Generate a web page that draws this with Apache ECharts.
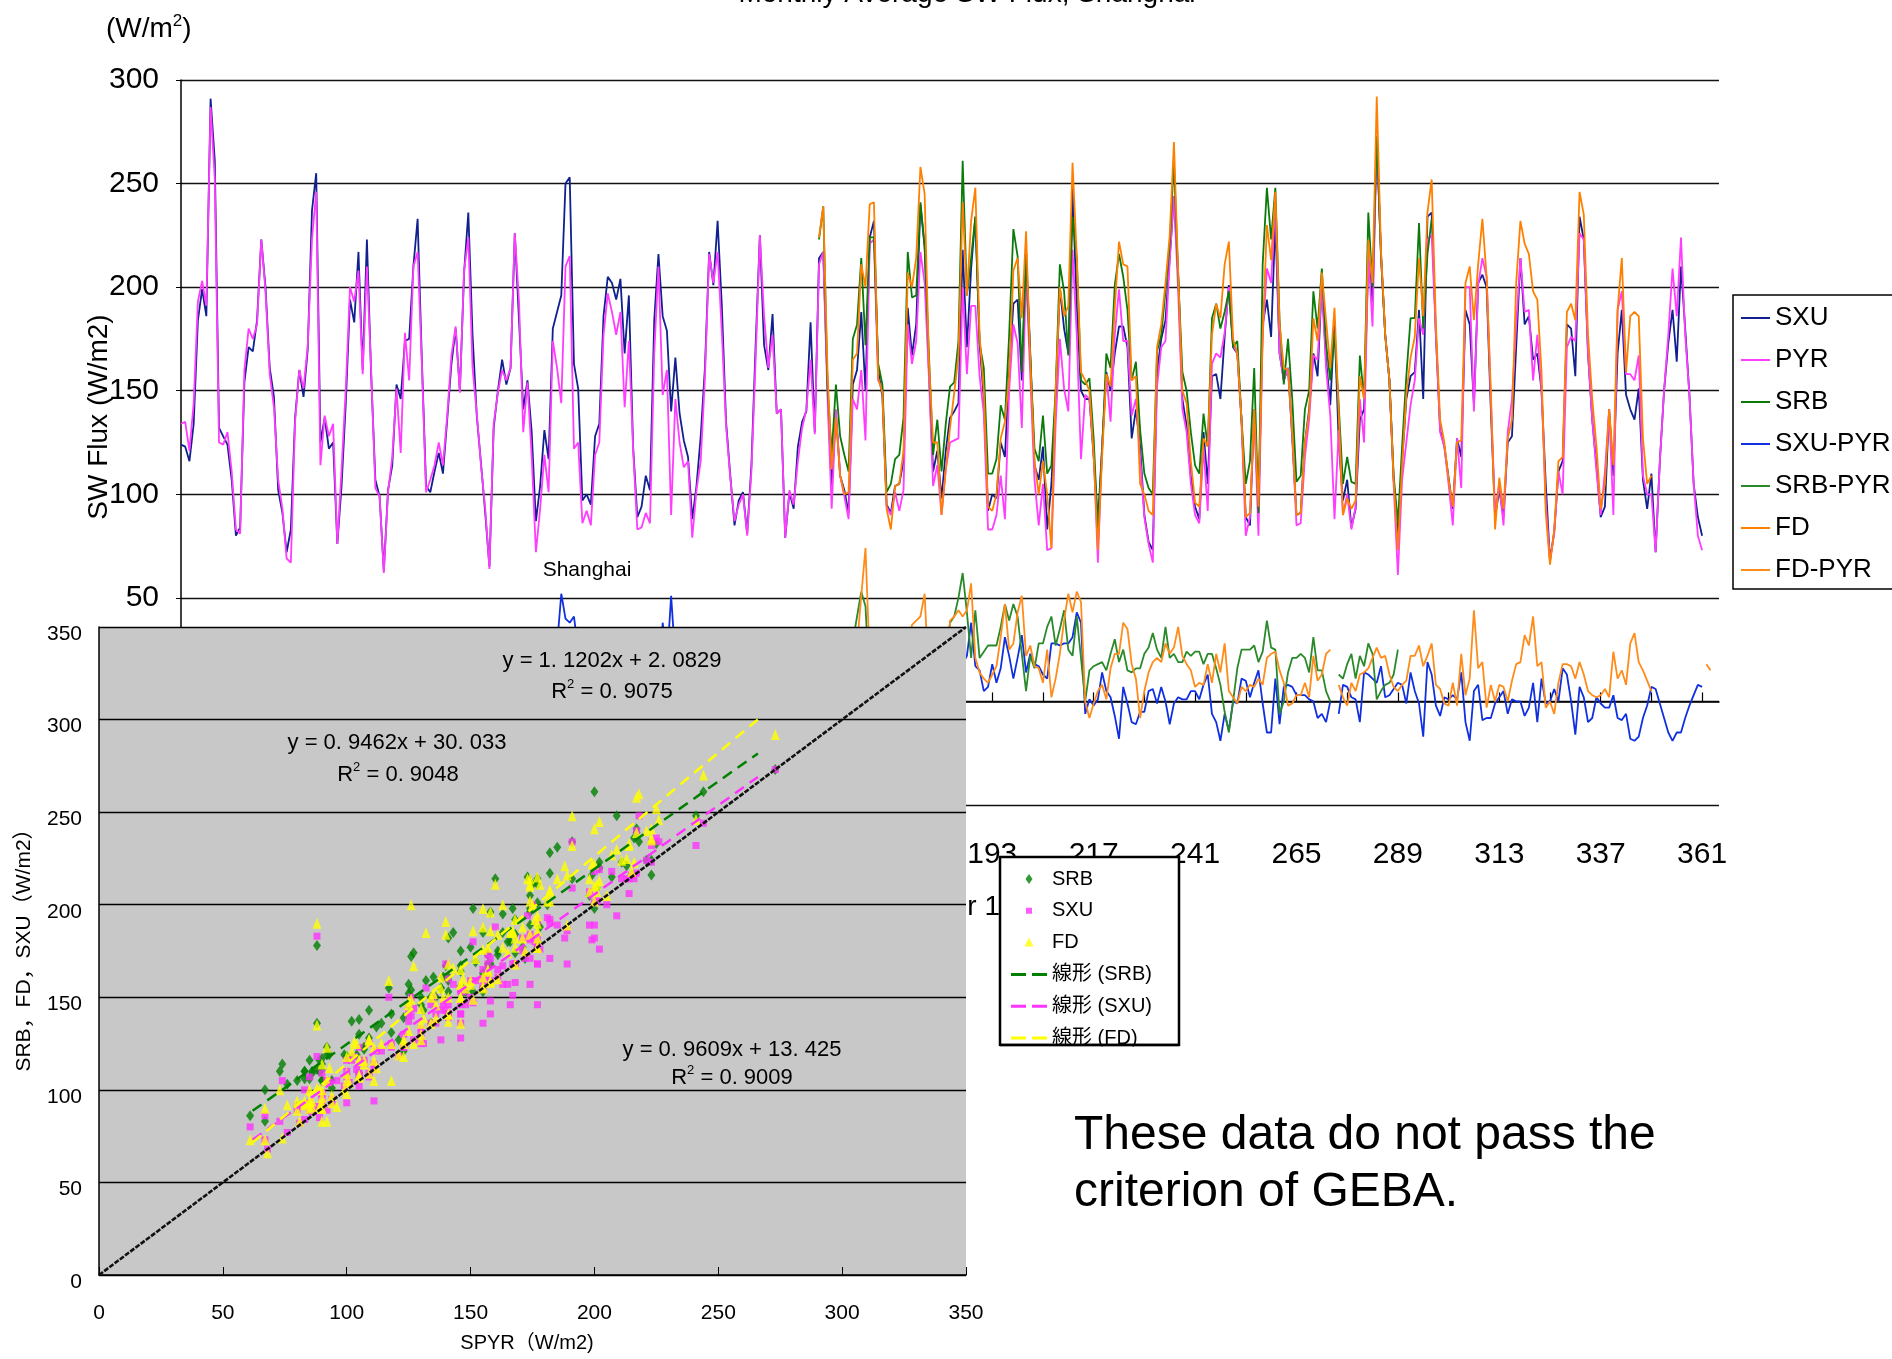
<!DOCTYPE html>
<html>
<head>
<meta charset="utf-8">
<title>Monthly Average SW Flux, Shanghai</title>
<script src="https://cdn.jsdelivr.net/npm/echarts@6.0.0/dist/echarts.min.js"></script>
<style>
  html, body { margin: 0; padding: 0; background: #fff; }
  #chart { width: 1892px; height: 1359px; }
</style>
</head>
<body>
<div id="chart"></div>
<script>
// month number along the time axis
const MONTHS = []
for (let m = 1; m <= 365; m++) MONTHS.push(String(m))

// monthly mean SW flux (W/m2), one row = 12 months, starting at month 1
const SXU = [
  124, 123, 116, 134, 184, 199, 186, 291, 261, 132, 128, 124,
  107, 80, 84, 154, 171, 169, 184, 223, 200, 161, 147, 102,
  91, 72, 83, 137, 160, 147, 170, 237, 255, 125, 137, 122,
  125, 76, 104, 144, 194, 183, 217, 160, 223, 158, 107, 99,
  63, 102, 114, 153, 146, 174, 175, 210, 233, 165, 104, 101,
  111, 120, 110, 136, 163, 180, 150, 207, 236, 177, 138, 115,
  91, 65, 132, 150, 165, 153, 161, 226, 184, 141, 155, 130,
  87, 104, 131, 117, 180, 188, 196, 250, 253, 163, 151, 97,
  100, 95, 128, 134, 186, 205, 202, 194, 204, 168, 196, 123,
  89, 94, 109, 102, 184, 216, 186, 179, 140, 166, 139, 126,
  118, 88, 104, 128, 161, 217, 201, 232, 191, 135, 109, 85,
  97, 101, 81, 114, 172, 225, 172, 160, 187, 139, 141, 79,
  101, 93, 123, 135, 140, 183, 130, 214, 217, 153, 104, 139,
  109, 102, 91, 153, 160, 188, 150, 224, 232, 160, 147, 95,
  91, 104, 105, 116, 190, 167, 182, 240, 219, 161, 111, 121,
  98, 121, 137, 140, 144, 218, 171, 209, 234, 173, 146, 92,
  100, 98, 125, 118, 159, 192, 194, 155, 218, 168, 114, 107,
  123, 83, 105, 146, 200, 180, 168, 248, 191, 150, 146, 146,
  118, 86, 123, 159, 150, 168, 181, 181, 171, 127, 141, 123,
  90, 77, 73, 159, 175, 184, 214, 244, 207, 146, 133, 109,
  94, 88, 130, 105, 157, 158, 146, 176, 201, 171, 168, 136,
  89, 85, 141, 91, 182, 194, 176, 232, 168, 155, 161, 127,
  90, 91, 125, 141, 168, 157, 202, 165, 143, 183, 125, 97,
  107, 84, 93, 136, 141, 214, 193, 273, 216, 177, 155, 107,
  80, 116, 146, 157, 159, 189, 146, 234, 236, 177, 131, 123,
  108, 93, 127, 118, 189, 182, 143, 202, 206, 200, 141, 89,
  102, 89, 125, 128, 171, 214, 182, 186, 165, 168, 150, 105,
  68, 82, 111, 116, 182, 180, 157, 234, 223, 168, 136, 114,
  89, 94, 141, 109, 168, 189, 148, 141, 136, 151, 107, 93,
  110, 72, 116, 150, 173, 189, 164, 210, 180, 148, 105, 89,
  80
]

const PYR = [
  134, 135, 121, 144, 193, 203, 191, 287, 252, 125, 124, 130,
  111, 83, 81, 160, 180, 175, 182, 223, 198, 158, 142, 107,
  93, 69, 67, 135, 160, 151, 172, 223, 246, 114, 138, 128,
  134, 76, 112, 151, 200, 193, 208, 158, 210, 160, 103, 99,
  62, 101, 118, 151, 120, 178, 155, 210, 217, 163, 101, 107,
  114, 125, 114, 138, 167, 181, 149, 208, 224, 161, 139, 114,
  93, 64, 134, 149, 160, 155, 161, 226, 193, 130, 154, 118,
  72, 93, 119, 101, 174, 161, 144, 210, 215, 122, 125, 86,
  92, 85, 119, 125, 177, 197, 188, 177, 188, 142, 174, 122,
  83, 84, 91, 86, 168, 210, 148, 160, 90, 146, 125, 113,
  116, 79, 102, 116, 156, 216, 202, 217, 178, 133, 108, 87,
  95, 100, 80, 111, 165, 225, 186, 161, 177, 139, 141, 79,
  102, 95, 116, 132, 141, 165, 129, 211, 217, 147, 93, 141,
  109, 99, 88, 146, 141, 160, 126, 221, 223, 155, 151, 94,
  90, 101, 92, 102, 182, 163, 174, 217, 202, 157, 104, 114,
  90, 112, 125, 126, 127, 200, 158, 191, 191, 157, 139, 83,
  83, 90, 109, 88, 150, 182, 173, 132, 207, 157, 107, 85,
  105, 73, 74, 134, 175, 151, 140, 218, 177, 117, 148, 146,
  121, 67, 123, 158, 135, 177, 199, 174, 174, 138, 146, 118,
  89, 76, 67, 152, 171, 174, 213, 244, 198, 141, 130, 105,
  90, 86, 123, 92, 163, 168, 166, 178, 200, 172, 168, 134,
  80, 89, 141, 80, 177, 209, 202, 241, 168, 155, 161, 130,
  85, 86, 118, 136, 167, 165, 201, 161, 138, 88, 131, 90,
  100, 83, 94, 146, 125, 216, 181, 273, 215, 177, 155, 105,
  61, 107, 125, 143, 155, 185, 177, 223, 225, 177, 130, 123,
  105, 85, 127, 103, 200, 200, 140, 201, 214, 205, 146, 92,
  105, 85, 130, 146, 182, 214, 188, 189, 155, 177, 150, 96,
  68, 81, 111, 100, 171, 176, 174, 226, 223, 168, 136, 111,
  90, 111, 141, 90, 189, 198, 158, 158, 155, 167, 109, 100,
  100, 72, 116, 150, 177, 209, 186, 224, 177, 148, 105, 80,
  73
]

// SRB starts at month 152
const SRB_START = 152
const SRB = [
  223, 239, 153, 119, 153,
  128, 119, 111, 175, 182, 214, 172, 224, 224, 163, 153, 101,
  105, 117, 119, 137, 217, 195, 196, 241, 220, 168, 119, 136,
  111, 134, 152, 154, 174, 261, 196, 214, 234, 173, 161, 110,
  110, 117, 143, 136, 177, 228, 215, 159, 215, 166, 122, 116,
  138, 110, 114, 150, 211, 198, 167, 234, 214, 155, 153, 156,
  127, 83, 121, 168, 161, 201, 216, 205, 189, 155, 164, 131,
  110, 103, 100, 169, 177, 198, 221, 261, 205, 159, 150, 130,
  114, 110, 139, 123, 185, 192, 180, 188, 198, 171, 174, 136,
  105, 116, 161, 91, 211, 248, 223, 248, 184, 153, 175, 146,
  106, 109, 141, 150, 198, 180, 209, 173, 155, 178, 143, 105,
  118, 106, 105, 167, 146, 236, 200, 273, 216, 177, 155, 109,
  86, 123, 157, 185, 185, 231, 180, 216, 233
]

// FD starts at month 152
const FD_START = 152
const FD = [
  224, 239, 160, 112, 137,
  109, 100, 101, 165, 168, 211, 200, 240, 241, 156, 149, 93,
  83, 104, 105, 121, 207, 200, 214, 258, 245, 165, 125, 125,
  90, 112, 132, 149, 167, 241, 196, 232, 248, 177, 150, 94,
  92, 100, 127, 135, 157, 208, 214, 185, 227, 164, 116, 100,
  116, 100, 74, 150, 200, 186, 191, 260, 215, 159, 155, 150,
  119, 73, 118, 158, 152, 190, 222, 211, 210, 155, 157, 105,
  100, 92, 90, 171, 182, 202, 225, 270, 207, 150, 144, 116,
  96, 94, 127, 123, 177, 192, 185, 211, 222, 175, 168, 136,
  89, 91, 141, 94, 177, 230, 213, 246, 182, 161, 160, 130,
  90, 91, 125, 139, 185, 174, 207, 184, 161, 190, 139, 90,
  98, 93, 97, 157, 146, 223, 202, 292, 218, 177, 155, 107,
  73, 114, 148, 166, 176, 214, 186, 236, 252, 182, 136, 125,
  107, 94, 125, 126, 202, 210, 184, 211, 233, 205, 150, 83,
  108, 93, 127, 136, 202, 232, 221, 216, 198, 194, 159, 91,
  66, 83, 116, 118, 188, 192, 184, 246, 235, 177, 146, 123,
  93, 105, 141, 114, 189, 214, 159, 186, 188, 186, 127, 105,
  109
]

// differences against the pyranometer (W/m2)
const SXU_PYR = [
  -10, -12, -5, -10, -9, -4, -5, 5, 9, 7, 4, -6,
  -4, -3, 3, -6, -9, -6, 2, 0, 2, 3, 5, -5,
  -2, 4, 16, 2, 1, -4, -2, 14, 9, 11, -1, -6,
  -9, 0, -9, -7, -6, -10, 9, 2, 13, -2, 4, 0,
  1, 1, -4, 2, 26, -4, 20, 0, 16, 2, 3, -6,
  -3, -5, -4, -2, -4, -1, 1, -1, 11, 16, -1, 1,
  -2, 1, -2, 1, 5, -3, 0, 0, -9, 11, 1, 12,
  15, 11, 12, 16, 6, 27, 52, 40, 38, 41, 25, 11,
  8, 10, 9, 10, 9, 8, 14, 17, 16, 26, 21, 1,
  5, 10, 18, 16, 16, 6, 38, 18, 51, 20, 13, 13,
  2, 9, 2, 12, 5, 2, -1, 15, 13, 2, 1, -2,
  2, 1, 1, 4, 7, 0, -14, -2, 10, 0, 0, 0,
  -1, -2, 7, 4, -1, 18, 1, 3, 0, 5, 11, -2,
  0, 3, 4, 6, 18, 27, 24, 3, 10, 4, -4, 1,
  2, 3, 13, 14, 8, 4, 8, 23, 18, 4, 7, 7,
  8, 9, 12, 14, 17, 18, 22, 38, 17, 15, 5, 7,
  18, 9, 16, 31, 22, 11, 21, 32, 14, 23, 18, 17,
  13, 11, 28, 28, 27, 28, 28, 31, 43, 38, -6, 1,
  -2, 1, 14, 5, 2, -7, -18, 7, -1, -10, -11, -5,
  -5, 5, 6, -1, 7, 0, -11, -1, 2, 1, 1, 5,
  5, 1, 8, 13, -6, -10, -19, -6, -14, 0, -1, 11,
  10, 2, 9, 15, -1, -15, -15, 11, -11, 7, 8, 7,
  3, 3, 3, 1, 0, -8, -6, -10, 0, null, -6, 8,
  7, 2, 1, -10, 14, 13, 11, 9, 17, 2, 3, 6,
  9, 8, -1, 14, 5, -1, -17, 19, 13, -2, -7, 2,
  1, 3, 1, 14, -10, -19, 5, 8, -9, -8, -8, -1,
  2, 5, -6, 1, 0, 0, -7, -3, 9, -10, 11, -1,
  0, 6, 0, 16, 13, 0, -16, 7, 2, -10, -8, 2,
  -1, -3, -3, 3, -8, -9, -6, -18, -19, -17, -8, -2,
  7, 6, -1, -8, -15, -19, -15, -15, -8, -2, 3, 8,
  7
]

const SRB_PYR_START = 152
const SRB_PYR = [
  11, 22, 5, 26, 11,
  19, 20, 24, 29, 41, 53, 46, 4, 1, 8, 3, 7,
  16, 16, 27, 35, 34, 32, 22, 24, 18, 11, 15, 22,
  20, 22, 38, 41, 50, 62, 43, 21, 44, 21, 24, 27,
  27, 27, 36, 47, 39, 47, 41, 23, 5, 22, 16, 28,
  28, 36, 41, 27, 35, 44, 25, 22, 41, 21, 0, 15,
  17, 18, 19, 15, 23, 30, 19, 25, 15, 14, 16, 16,
  23, 26, 33, 25, 21, 36, 21, 23, 19, 19, 24, 22,
  24, 24, 18, 23, 23, 16, 8, -5, -15, 0, 16, 25,
  25, 25, 27, 19, 24, 39, 26, 25, -6, 0, 14, 21,
  21, 23, 21, 14, 31, 15, 15, 5, 0, null, 13, 11,
  18, 23, 11, 22, 17, 28, 23, 1, 5, 8, 9, 13,
  25
]

const FD_PYR_START = 152
const FD_PYR = [
  13, 22, 12, 19, -4,
  0, 1, 13, 18, 27, 51, 74, 19, 18, 1, -2, -1,
  -7, 3, 13, 19, 25, 37, 39, 41, 52, 8, 21, 11,
  0, 0, 39, 41, 44, 41, 44, 57, 21, 14, 11, 9,
  13, 17, 31, 47, 25, 28, 43, 51, 22, 27, 17, 16,
  9, 25, 2, 11, 23, 39, 52, 43, 53, 48, 0, -8,
  -1, 5, 8, 1, 16, 23, 23, 38, 35, 18, 11, -8,
  5, 14, 19, 21, 19, 28, 23, 26, 36, 22, 18, 15,
  7, 9, 8, 18, 9, 23, 14, 28, 5, 2, -1, 7,
  5, 8, 7, 11, 8, 21, 23, 24, 15, 9, -2, -1,
  3, 3, 9, 2, 22, 10, 13, 23, 25, null, 8, 2,
  -2, 9, 5, 13, 14, 16, 21, 26, 21, 22, 13, 7,
  5, 8, 10, 22, 22, 27, 17, 22, 28, 8, 6, -1,
  -2, 9, -2, 23, 3, 11, 44, 16, 19, -3, 8, 0,
  8, 7, 0, 10, 18, 19, 32, 27, 41, 17, 19, -3,
  0, -6, 9, 18, 18, 17, 11, 19, 13, 5, 3, 2,
  3, 6, 2, 24, 11, 15, 8, 28, 33, 19, 15, 10,
  5, null, null, null, null, null, null, null, null, null, null, null,
  null, 18, 15
]

// linear fits printed on the scatter plot: [slope, intercept]
const FIT_SRB = [0.9462, 30.033]
const FIT_SXU = [0.9609, 13.425]
const FIT_FD = [1.1202, 2.0829]
const FIT_X = [62, 266]
// months used in the scatter plot (period with SRB / FD)
const SCATTER_MONTHS = [152, 349]

const FONT = '"Liberation Sans", "Noto Sans CJK JP", sans-serif'

// legend icons; the two zero-area strokes pin the icon box so nothing is stretched
const BOX29 = 'M0,0L0.01,0ZM29,14L28.99,14Z'
const BOX36 = 'M0,0L0.01,0ZM36,12L35.99,12Z'
const ICON_LINE = 'path://' + BOX29 + 'M0,6L29,6L29,8L0,8Z'
const ICON_DIAMOND = 'path://' + BOX36 + 'M18,1L21.5,6L18,11L14.5,6Z'
const ICON_SQUARE = 'path://' + BOX36 + 'M15,3L21,3L21,9L15,9Z'
const ICON_TRIANGLE = 'path://' + BOX36 + 'M18,1L22.5,10L13.5,10Z'
const ICON_DASH = 'path://' + BOX36 + 'M0,4.5L15,4.5L15,7.5L0,7.5ZM21,4.5L36,4.5L36,7.5L21,7.5Z'

function fromMonth (start, vals) {
  const out = MONTHS.map(() => null)
  vals.forEach((v, k) => { out[start - 1 + k] = v })
  return out
}

function vsPyr (series) {
  const out = []
  for (let m = SCATTER_MONTHS[0]; m <= SCATTER_MONTHS[1]; m++) {
    const x = PYR[m - 1]
    const y = series[m - 1]
    if (x != null && y != null) out.push([x, y])
  }
  return out
}

function fitLine ([a, b]) {
  return FIT_X.map(x => [x, a * x + b])
}

function tsLine (name, data, color) {
  return {
    name,
    type: 'line',
    xAxisIndex: 0,
    yAxisIndex: 0,
    data,
    symbol: 'none',
    showSymbol: false,
    connectNulls: false,
    lineStyle: { color, width: 1.8 },
    itemStyle: { color },
    z: 2
  }
}

function text (x, y, str, size, extra) {
  return Object.assign({
    type: 'text',
    x,
    y,
    z: 15,
    silent: true,
    style: {
      text: str,
      font: size + 'px ' + FONT,
      fill: '#000',
      align: 'center',
      verticalAlign: 'middle',
      textAlign: 'center',
      textVerticalAlign: 'middle'
    }
  }, extra || {})
}

function r2 (x, y, val) {
  return {
    type: 'text',
    x,
    y,
    z: 15,
    silent: true,
    style: {
      text: '{r|R}{s|2}{r| = ' + val + '}',
      align: 'center',
      verticalAlign: 'middle',
      textAlign: 'center',
      textVerticalAlign: 'middle',
      rich: {
        r: { fontSize: 22, fontFamily: FONT, fill: '#000', lineHeight: 28 },
        s: { fontSize: 13, fontFamily: FONT, fill: '#000', lineHeight: 12, verticalAlign: 'top' }
      }
    }
  }
}

const SRB_FULL = fromMonth(SRB_START, SRB)
const FD_FULL = fromMonth(FD_START, FD)
const SXU_FULL = fromMonth(1, SXU)
const PYR_FULL = fromMonth(1, PYR)

const chart = echarts.init(document.getElementById('chart'), null, { renderer: 'canvas' })

chart.setOption({
  animation: false,
  backgroundColor: '#fff',
  textStyle: { fontFamily: FONT, color: '#000' },
  grid: [
    { left: 181, top: 80, width: 1538, height: 725, containLabel: false, outerBoundsMode: 'none', show: false },
    {
      left: 99, top: 627, width: 867, height: 648, containLabel: false, outerBoundsMode: 'none',
      show: true, backgroundColor: '#c8c8c8', borderWidth: 0, z: 10
    }
  ],
  xAxis: [
    {
      type: 'category',
      gridIndex: 0,
      data: MONTHS,
      boundaryGap: false,
      axisLine: { show: true, lineStyle: { color: '#000', width: 1.5 } },
      axisTick: {
        show: true,
        inside: true,
        length: 9,
        interval: (i) => i % 12 === 0,
        lineStyle: { color: '#000', width: 1.2 }
      },
      axisLabel: {
        interval: (i) => i % 24 === 0,
        fontSize: 30,
        color: '#000',
        margin: 35
      },
      splitLine: { show: false }
    },
    {
      type: 'value',
      gridIndex: 1,
      min: 0,
      max: 350,
      interval: 50,
      z: 11,
      axisLine: { show: true, onZero: false, lineStyle: { color: '#000', width: 1.5 } },
      axisTick: { show: true, inside: true, length: 8, lineStyle: { color: '#000' } },
      axisLabel: { fontSize: 21, color: '#000', margin: 28 },
      splitLine: { show: false }
    }
  ],
  yAxis: [
    {
      type: 'value',
      gridIndex: 0,
      min: -50,
      max: 300,
      interval: 50,
      axisLine: { show: true, lineStyle: { color: '#000', width: 1.5 } },
      axisTick: { show: true, length: 5, lineStyle: { color: '#000' } },
      axisLabel: {
        fontSize: 30,
        color: '#000',
        margin: 22,
        formatter: (v) => (v >= 50 ? String(v) : '')
      },
      splitLine: { show: true, lineStyle: { color: '#111', width: 1.4 } }
    },
    {
      type: 'value',
      gridIndex: 1,
      min: 0,
      max: 350,
      interval: 50,
      z: 11,
      axisLine: { show: true, onZero: false, lineStyle: { color: '#000', width: 1.5 } },
      axisTick: { show: false },
      axisLabel: { fontSize: 21, color: '#000', margin: 17, verticalAlign: 'top', lineHeight: 14 },
      splitLine: { show: true, lineStyle: { color: '#000', width: 1.3 } }
    }
  ],
  legend: [
    {
      data: ['SXU', 'PYR', 'SRB', 'SXU-PYR', 'SRB-PYR', 'FD', 'FD-PYR'].map(name => ({ name, icon: ICON_LINE })),
      orient: 'vertical',
      left: 1733,
      top: 295,
      padding: [10, 150, 6, 8],
      backgroundColor: '#fff',
      borderColor: '#000',
      borderWidth: 1.5,
      borderRadius: 0,
      itemWidth: 29,
      itemHeight: 14,
      itemGap: 16,
      symbolKeepAspect: true,
      selectedMode: false,
      textStyle: { fontSize: 26, lineHeight: 26, color: '#000', fontFamily: FONT },
      z: 6
    },
    {
      data: [
        { name: 'pt SRB', icon: ICON_DIAMOND },
        { name: 'pt SXU', icon: ICON_SQUARE },
        { name: 'pt FD', icon: ICON_TRIANGLE },
        { name: '線形 (SRB)', icon: ICON_DASH },
        { name: '線形 (SXU)', icon: ICON_DASH },
        { name: '線形 (FD)', icon: ICON_DASH }
      ],
      formatter: (name) => name.replace(/^pt /, ''),
      orient: 'vertical',
      left: 1011,
      top: 869,
      padding: 0,
      itemWidth: 36,
      itemHeight: 12,
      itemGap: 11.8,
      symbolKeepAspect: true,
      selectedMode: false,
      textStyle: { fontSize: 20, lineHeight: 20, color: '#000', fontFamily: FONT },
      z: 20
    }
  ],
  series: [
    tsLine('SXU', SXU_FULL, '#10208f'),
    tsLine('PYR', PYR_FULL, '#ff3cff'),
    tsLine('SRB', SRB_FULL, '#0b7a0b'),
    tsLine('SXU-PYR', fromMonth(1, SXU_PYR), '#1030e0'),
    tsLine('SRB-PYR', fromMonth(SRB_PYR_START, SRB_PYR), '#2a8a2a'),
    tsLine('FD', FD_FULL, '#ff8000'),
    tsLine('FD-PYR', fromMonth(FD_PYR_START, FD_PYR), '#ff8c1a'),
    {
      name: 'pt SRB',
      type: 'scatter',
      xAxisIndex: 1,
      yAxisIndex: 1,
      data: vsPyr(SRB_FULL),
      symbol: 'diamond',
      symbolSize: [8, 11],
      itemStyle: { color: '#008000' },
      z: 12
    },
    {
      name: 'pt SXU',
      type: 'scatter',
      xAxisIndex: 1,
      yAxisIndex: 1,
      data: vsPyr(SXU_FULL),
      symbol: 'rect',
      symbolSize: 7,
      itemStyle: { color: '#ff33ff' },
      z: 12
    },
    {
      name: 'pt FD',
      type: 'scatter',
      xAxisIndex: 1,
      yAxisIndex: 1,
      data: vsPyr(FD_FULL),
      symbol: 'triangle',
      symbolSize: [9, 11],
      itemStyle: { color: '#ffff00' },
      z: 12
    },
    {
      name: '線形 (SRB)',
      type: 'line',
      xAxisIndex: 1,
      yAxisIndex: 1,
      data: fitLine(FIT_SRB),
      symbol: 'none',
      lineStyle: { color: '#008000', width: 2.5, type: [11, 7] },
      itemStyle: { color: '#008000' },
      z: 13
    },
    {
      name: '線形 (SXU)',
      type: 'line',
      xAxisIndex: 1,
      yAxisIndex: 1,
      data: fitLine(FIT_SXU),
      symbol: 'none',
      lineStyle: { color: '#ff33ff', width: 2.5, type: [11, 7] },
      itemStyle: { color: '#ff33ff' },
      z: 13
    },
    {
      name: '線形 (FD)',
      type: 'line',
      xAxisIndex: 1,
      yAxisIndex: 1,
      data: fitLine(FIT_FD),
      symbol: 'none',
      lineStyle: { color: '#ffff00', width: 2.5, type: [11, 7] },
      itemStyle: { color: '#ffff00' },
      z: 13
    },
    {
      name: '1:1',
      type: 'line',
      xAxisIndex: 1,
      yAxisIndex: 1,
      data: [[0, 0], [350, 350]],
      symbol: 'none',
      lineStyle: { color: '#111', width: 2.6, type: [5, 1.5] },
      z: 14
    }
  ],
  graphic: [
    text(967, -6, 'Monthly Average SW Flux, Shanghai', 28, { z: 5 }),
    {
      type: 'text',
      x: 106,
      y: 29,
      z: 5,
      silent: true,
      style: {
        text: '{a|(W/m}{s|2}{a|)}',
        align: 'left',
        verticalAlign: 'middle',
        textAlign: 'left',
        textVerticalAlign: 'middle',
        rich: {
          a: { fontSize: 28, fontFamily: FONT, fill: '#000', lineHeight: 32 },
          s: { fontSize: 17, fontFamily: FONT, fill: '#000', lineHeight: 20, verticalAlign: 'top' }
        }
      }
    },
    text(99, 417, 'SW Flux (W/m2)', 28, { rotation: Math.PI / 2, z: 5 }),
    text(587, 570, 'Shanghai', 21, { z: 5 }),
    {
      type: 'text',
      x: 1000,
      y: 907,
      z: 1,
      silent: true,
      style: {
        text: 'Month Number 1',
        font: '28px ' + FONT,
        fill: '#000',
        align: 'right',
        verticalAlign: 'middle',
        textAlign: 'right',
        textVerticalAlign: 'middle'
      }
    },
    {
      type: 'text',
      x: 1074,
      y: 1107,
      z: 5,
      silent: true,
      style: {
        text: 'These data do not pass the\ncriterion of GEBA.',
        font: '48px ' + FONT,
        lineHeight: 57,
        fill: '#000',
        align: 'left',
        verticalAlign: 'top',
        textAlign: 'left',
        textVerticalAlign: 'top'
      }
    },
    // scatter plot titles and fit labels
    text(24, 945, 'SRB，FD，SXU（W/m2）', 21, { rotation: Math.PI / 2 }),
    text(527, 1343, 'SPYR（W/m2)', 20),
    text(612, 661, 'y = 1. 1202x + 2. 0829', 22),
    r2(612, 692, '0. 9075'),
    text(397, 743, 'y = 0. 9462x + 30. 033', 22),
    r2(398, 775, '0. 9048'),
    text(732, 1050, 'y = 0. 9609x + 13. 425', 22),
    r2(732, 1078, '0. 9009'),
    // legend box of the scatter plot (bottom row is cut by the frame)
    {
      type: 'rect',
      z: 19,
      silent: true,
      shape: { x: 1000, y: 857, width: 179, height: 188 },
      style: { fill: '#fff', stroke: '#000', lineWidth: 2.5 }
    },
    {
      type: 'rect',
      z: 21,
      silent: true,
      shape: { x: 996, y: 1046.5, width: 188, height: 16 },
      style: { fill: '#fff' }
    },
    {
      type: 'line',
      z: 22,
      silent: true,
      shape: { x1: 1000, y1: 1045, x2: 1179, y2: 1045 },
      style: { stroke: '#000', lineWidth: 2.5 }
    }
  ]
})
</script>
</body>
</html>
